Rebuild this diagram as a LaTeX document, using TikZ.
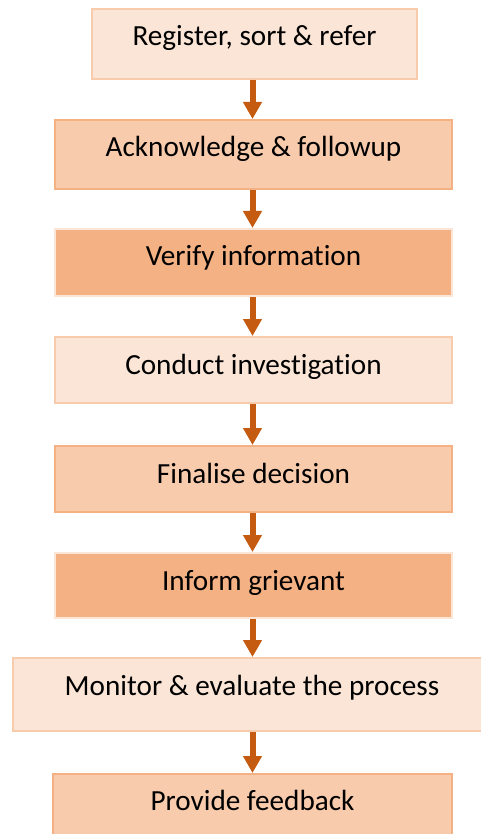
\documentclass[tikz,border=0pt]{standalone}
\usepackage{fontspec}
\setmainfont{Carlito}[Ligatures=NoCommon]
\usetikzlibrary{arrows.meta}
\definecolor{pale}{HTML}{FBE5D6}
\definecolor{peach}{HTML}{F8CBAD}
\definecolor{apricot}{HTML}{F4B183}
\definecolor{rust}{HTML}{C55A11}
\begin{document}
\begin{tikzpicture}[x=1pt,y=-1pt,>={Triangle[width=18pt,length=17pt]},
  stage/.style={anchor=base,inner sep=0pt,line width=2pt,text height=37pt,
    font=\fontsize{29.2}{35}\selectfont},
  light/.style={stage,fill=pale,draw=peach},
  mid/.style={stage,fill=peach,draw=apricot},
  dark/.style={stage,fill=apricot,draw=pale},
  flow/.style={->,rust,line width=6pt}]
\useasboundingbox (0,0) rectangle (481,834);
\coordinate (A) at (252.5,0);
\coordinate (S1) at (254.5,46);
\coordinate (S2) at (253.5,157);
\coordinate (S3) at (253.5,265);
\coordinate (S4) at (253.5,374);
\coordinate (S5) at (253.5,483);
\coordinate (S6) at (253.5,590);
\coordinate (S7) at (252,695);
\coordinate (S8) at (252.5,810);
\node[light,minimum width=325pt,text depth=33pt] (B1) at (S1) {Register, sort \& refer};
\node[mid,minimum width=397pt,text depth=32pt] (B2) at (S2) {Acknowledge \& followup};
\node[dark,minimum width=397pt,text height=36pt,text depth=31pt] (B3) at (S3) {Verify information};
\node[light,minimum width=397pt,text depth=29pt] (B4) at (S4) {Conduct investigation};
\node[mid,minimum width=397pt,text depth=29pt] (B5) at (S5) {Finalise decision};
\node[dark,minimum width=397pt,text depth=28pt] (B6) at (S6) {Inform grievant};
\node[light,minimum width=478pt,text depth=36pt] (B7) at (S7) {Monitor \& evaluate the process};
\node[mid,minimum width=399pt,text height=36pt,text depth=40pt] (B8) at (S8) {Provide feedback};
\draw[flow] (B1.south -| A) -- (B2.north -| A);
\draw[flow] (B2.south -| A) -- (B3.north -| A);
\draw[flow] (B3.south -| A) -- (B4.north -| A);
\draw[flow] (B4.south -| A) -- (B5.north -| A);
\draw[flow] (B5.south -| A) -- (B6.north -| A);
\draw[flow] (B6.south -| A) -- (B7.north -| A);
\draw[flow] (B7.south -| A) -- (B8.north -| A);
\end{tikzpicture}
\end{document}
